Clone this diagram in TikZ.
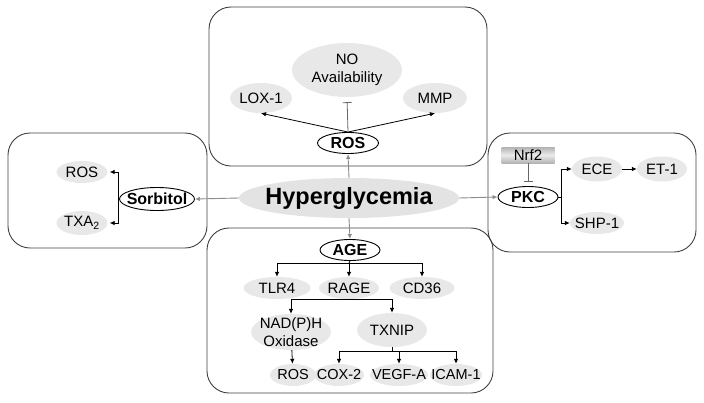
\documentclass[tikz,border=0pt]{standalone}
\usepackage{fontspec}
\setmainfont{Liberation Sans}
\usetikzlibrary{shapes.geometric,positioning,arrows.meta}

\begin{document}
\begin{tikzpicture}[x=1pt, y=-1pt,
    panel/.style={draw=black!75, line width=0.9pt, rounded corners=22pt},
    mol/.style={ellipse, fill=black!9, inner xsep=-3pt, inner ysep=0pt, font=\fontsize{15}{18}\selectfont},
    tight/.style={mol, inner xsep=-8pt, font=\fontsize{14.5}{18}\selectfont},
    hub/.style={ellipse, draw=black, line width=0.9pt, fill=white, inner sep=0pt, font=\bfseries\fontsize{16}{18}\selectfont},
    link/.style={line width=0.8pt},
    arr/.style={-{Latex[length=5pt,width=4.5pt]}, line width=0.8pt},
    garr/.style={-{Latex[length=5pt,width=4.5pt]}, line width=0.9pt, draw=black!45},
    inh/.style={-{Bar[width=9pt]}, line width=0.8pt, draw=black!60}]
    \useasboundingbox (0,0) rectangle (704,402);

    % Four panels round the centre
    \draw[panel] (209,7) rectangle (487,166);
    \draw[panel] (8,133) rectangle (207,248);
    \draw[panel] (488,133) rectangle (696,252);
    \draw[panel] (207,228) rectangle (493,393);

    % Centre node
    \node[ellipse, fill=black!11, inner xsep=-6pt, inner ysep=0pt, minimum width=220pt, minimum height=40pt, font=\bfseries\fontsize{23.5}{26}\selectfont] (hyp) at (349,198) {Hyperglycemia};

    % Top panel: ROS
    \node[hub, minimum width=61pt, minimum height=21pt] (rosT) at (348,143) {ROS};
    \node[mol, align=center, minimum width=110pt, minimum height=54pt] (noav) at (347,70) {NO\\Availability};
    \node[mol, minimum width=62pt, minimum height=30pt] (lox) at (261,98) {LOX-1};
    \node[mol, minimum width=64pt, minimum height=30pt] (mmp) at (435,98) {MMP};

    \draw[arr] (rosT.north) -- (lox.south);
    \draw[arr] (rosT.north) -- (mmp.south);
    \draw[inh, shorten >=5pt] (rosT.north) -- (noav.south);

    % Left panel: Sorbitol
    \node[hub, inner xsep=-5pt, minimum width=75pt, minimum height=23pt] (sorb) at (157,199) {Sorbitol};
    \node[mol, minimum width=51pt, minimum height=22pt] (rosL) at (82,172) {ROS};
    \node[mol, minimum width=51pt, minimum height=24pt] (txa) at (82,223) {TXA\textsubscript{2}};
    \coordinate (sbr) at (118,199);

    \draw[link] (sorb.west) -- (sbr);
    \draw[arr, shorten >=2pt] (sbr) |- (rosL);
    \draw[arr, shorten >=2pt] (sbr) |- (txa);

    % Right panel: PKC
    \node[minimum width=53pt, minimum height=16pt, inner sep=0pt, top color=black!30, bottom color=black!30, middle color=black!8, font=\fontsize{15}{18}\selectfont] (nrf) at (528,155) {Nrf2};
    \node[hub, minimum width=60pt, minimum height=21pt] (pkc) at (528,197) {PKC};
    \node[mol, minimum width=50pt, minimum height=25pt] (ece) at (597,169) {ECE};
    \node[mol, minimum width=50pt, minimum height=25pt] (et1) at (662,169) {ET-1};
    \node[mol, minimum width=52pt, minimum height=22pt] (shp) at (597,223) {SHP-1};
    \coordinate (pbr) at (561,197);

    \draw[inh, shorten >=4.5pt] (nrf.south) -- (pkc.north);
    \draw[link] (pkc.east) -- (pbr);
    \draw[arr] (pbr) |- (ece);
    \draw[arr] (pbr) |- (shp);
    \draw[arr] (ece) -- (et1);

    % Bottom panel: AGE
    \node[hub, minimum width=60pt, minimum height=21pt] (age) at (350,250) {AGE};
    \node[mol, minimum width=67pt, minimum height=22pt] (tlr) at (277,288) {TLR4};
    \node[mol, minimum width=60pt, minimum height=22pt] (rage) at (349,288) {RAGE};
    \node[mol, minimum width=65pt, minimum height=22pt] (cd36) at (422,288) {CD36};
    \node[mol, align=center, inner ysep=-6pt, minimum width=74pt, minimum height=36pt] (nadph) at (291,332) {NAD(P)H\\Oxidase};
    \node[mol, minimum width=70pt, minimum height=34pt] (txnip) at (392,330) {TXNIP};
    \node[tight, minimum width=46pt, minimum height=22pt] (rosB) at (293,375) {ROS};
    \node[tight, minimum width=50pt, minimum height=22pt] (cox) at (339,375) {COX-2};
    \node[tight, minimum width=58pt, minimum height=22pt] (vegf) at (399,375) {VEGF-A};
    \node[tight, minimum width=52pt, minimum height=22pt] (icam) at (456,375) {ICAM-1};
    \coordinate (abr) at (349,263);
    \coordinate (tbr) at (399,351);

    \draw[link] (age.south) -- (abr);
    \draw[arr] (abr) -| (tlr);
    \draw[arr] (abr) -- (rage);
    \draw[arr] (abr) -| (cd36);
    \draw[arr] (rage.south) -| (nadph);
    \draw[arr] (rage.south) -| (txnip);
    \draw[arr] (nadph) -- (rosB);
    \draw[link] (txnip.south) -- (txnip.south |- tbr);
    \draw[arr] (tbr) -| (cox);
    \draw[arr] (tbr) -- (vegf);
    \draw[arr] (tbr) -| (icam);

    % Grey arrows out of the centre
    \draw[garr] (hyp.north) -- (rosT.south);
    \draw[garr] (hyp.south) -- (age.north);
    \draw[garr] (hyp.west) -- (sorb.east);
    \draw[garr] (hyp.east) -- (pkc.west);
\end{tikzpicture}
\end{document}
